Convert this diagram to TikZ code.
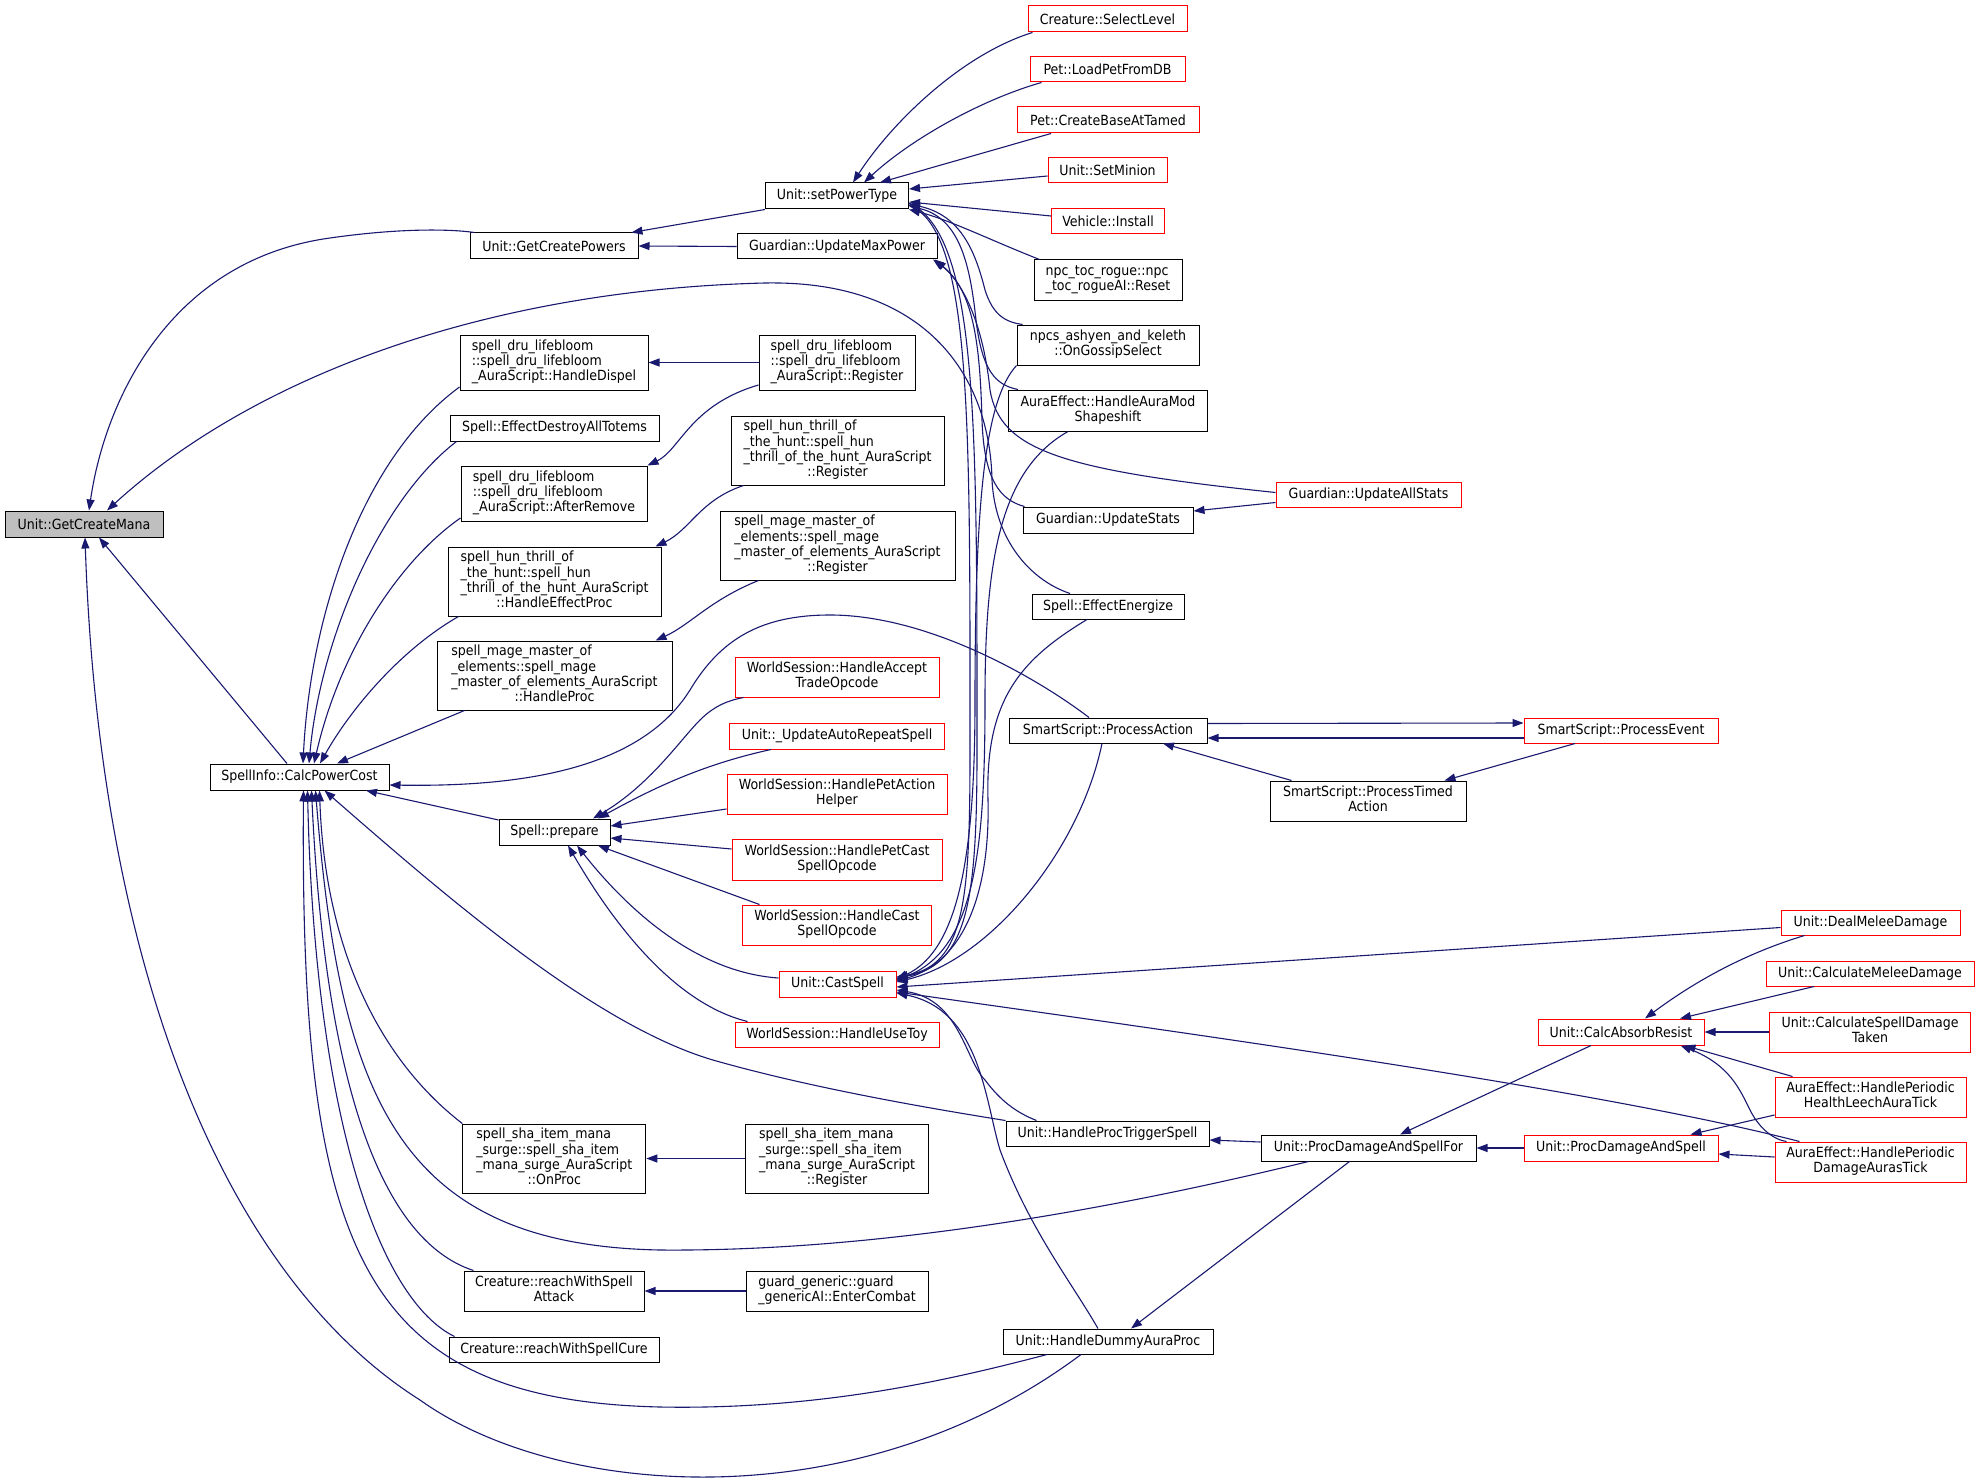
\documentclass[tikz,border=0pt]{standalone}
\usepackage{fontspec}
\setmainfont{DejaVu Sans}[FakeStretch=0.9]
\usetikzlibrary{arrows.meta}
\definecolor{edgec}{HTML}{191970}
\definecolor{rootfill}{HTML}{BFBFBF}
\definecolor{redb}{HTML}{FF0000}
\newcommand\lastln[1]{\multicolumn{1}{@{}c@{}}{#1}}
\newcommand\mlines[1]{\begin{tabular}{@{}l@{}}#1\end{tabular}}
\begin{document}
\begin{tikzpicture}[x=1pt,y=-1pt,
  bx/.style={rectangle, draw=black, line width=1pt, inner sep=0pt, font=\fontsize{14pt}{15pt}\selectfont},
  rb/.style={bx, draw=redb},
  sz/.style 2 args={minimum width=#1pt, minimum height=#2pt},
  ed/.style={draw=edgec, line width=1.1pt, {Triangle[length=11pt,width=8pt]}-}]
\fill[white] (0,0) rectangle (1980,1479);
\useasboundingbox (0,0) rectangle (1980,1479);
% ---------- nodes ----------
\node[bx, sz={158}{26}, fill=rootfill] (gcm) at (84,524) {Unit::GetCreateMana};
\node[bx, sz={168}{26}] (gcp) at (554,246) {Unit::GetCreatePowers};
\node[bx, sz={179}{26}] (cpc) at (299.5,777) {SpellInfo::CalcPowerCost};
\node[bx, sz={143}{26}] (spt) at (837,196) {Unit::setPowerType};
\node[bx, sz={200}{25}] (gump) at (837,246.5) {Guardian::UpdateMaxPower};
\node[rb, sz={159}{26}] (sel) at (1107.5,19) {Creature::SelectLevel};
\node[rb, sz={155}{25}] (lpdb) at (1107.5,69.5) {Pet::LoadPetFromDB};
\node[rb, sz={182}{26}] (cbat) at (1108,120) {Pet::CreateBaseAtTamed};
\node[rb, sz={119}{25}] (smin) at (1107.5,170.5) {Unit::SetMinion};
\node[rb, sz={113}{25}] (vins) at (1108,221.5) {Vehicle::Install};
\node[bx, sz={148}{40}] (toc) at (1108,280) {\mlines{npc\_toc\_rogue::npc\\\lastln{\_toc\_rogueAI::Reset}}};
\node[bx, sz={182}{40}] (ash) at (1108,345) {\mlines{npcs\_ashyen\_and\_keleth\\\lastln{::OnGossipSelect}}};
\node[bx, sz={199}{41}] (shp) at (1108,410.5) {\mlines{AuraEffect::HandleAuraMod\\\lastln{Shapeshift}}};
\node[rb, sz={185}{25}] (uas) at (1368.5,494.5) {Guardian::UpdateAllStats};
\node[bx, sz={170}{26}] (ust) at (1108,520) {Guardian::UpdateStats};
\node[bx, sz={152}{25}] (een) at (1108,606.5) {Spell::EffectEnergize};
\node[bx, sz={188}{55}] (dd) at (554,362.5) {\mlines{spell\_dru\_lifebloom\\::spell\_dru\_lifebloom\\\lastln{\_AuraScript::HandleDispel}}};
\node[bx, sz={156}{55}] (ddr) at (837,362.5) {\mlines{spell\_dru\_lifebloom\\::spell\_dru\_lifebloom\\\lastln{\_AuraScript::Register}}};
\node[bx, sz={209}{26}] (edt) at (554.5,428) {Spell::EffectDestroyAllTotems};
\node[bx, sz={186}{55}] (dar) at (554,493.5) {\mlines{spell\_dru\_lifebloom\\::spell\_dru\_lifebloom\\\lastln{\_AuraScript::AfterRemove}}};
\node[bx, sz={213}{69}] (hep) at (554.5,581.5) {\mlines{spell\_hun\_thrill\_of\\\_the\_hunt::spell\_hun\\\_thrill\_of\_the\_hunt\_AuraScript\\\lastln{::HandleEffectProc}}};
\node[bx, sz={213}{69}] (hr) at (837.5,450.5) {\mlines{spell\_hun\_thrill\_of\\\_the\_hunt::spell\_hun\\\_thrill\_of\_the\_hunt\_AuraScript\\\lastln{::Register}}};
\node[bx, sz={235}{69}] (mhp) at (554.5,675.5) {\mlines{spell\_mage\_master\_of\\\_elements::spell\_mage\\\_master\_of\_elements\_AuraScript\\\lastln{::HandleProc}}};
\node[bx, sz={235}{69}] (mr) at (837.5,545.5) {\mlines{spell\_mage\_master\_of\\\_elements::spell\_mage\\\_master\_of\_elements\_AuraScript\\\lastln{::Register}}};
\node[bx, sz={111}{26}] (prep) at (554.5,832) {Spell::prepare};
\node[rb, sz={204}{40}] (hat) at (837,677) {\mlines{WorldSession::HandleAccept\\\lastln{TradeOpcode}}};
\node[rb, sz={215}{26}] (uars) at (837,736) {Unit::\_UpdateAutoRepeatSpell};
\node[rb, sz={220}{40}] (hpa) at (837,794) {\mlines{WorldSession::HandlePetAction\\\lastln{Helper}}};
\node[rb, sz={210}{41}] (hpc) at (837,859.5) {\mlines{WorldSession::HandlePetCast\\\lastln{SpellOpcode}}};
\node[rb, sz={189}{40}] (hcs) at (837,925) {\mlines{WorldSession::HandleCast\\\lastln{SpellOpcode}}};
\node[rb, sz={117}{26}] (cs) at (837.5,984) {Unit::CastSpell};
\node[rb, sz={204}{25}] (toy) at (837,1034.5) {WorldSession::HandleUseToy};
\node[bx, sz={198}{25}] (pa) at (1108,730.5) {SmartScript::ProcessAction};
\node[rb, sz={194}{25}] (pe) at (1621,730.5) {SmartScript::ProcessEvent};
\node[bx, sz={196}{40}] (pta) at (1368,801) {\mlines{SmartScript::ProcessTimed\\\lastln{Action}}};
\node[rb, sz={179}{25}] (dmd) at (1870.5,922.5) {Unit::DealMeleeDamage};
\node[rb, sz={208}{25}] (cmd) at (1870,973.5) {Unit::CalculateMeleeDamage};
\node[rb, sz={166}{26}] (car) at (1621,1032) {Unit::CalcAbsorbResist};
\node[rb, sz={201}{40}] (csdt) at (1870,1032) {\mlines{Unit::CalculateSpellDamage\\\lastln{Taken}}};
\node[rb, sz={191}{40}] (hl) at (1870.5,1097) {\mlines{AuraEffect::HandlePeriodic\\\lastln{HealthLeechAuraTick}}};
\node[rb, sz={191}{40}] (da) at (1870.5,1162) {\mlines{AuraEffect::HandlePeriodic\\\lastln{DamageAurasTick}}};
\node[rb, sz={194}{26}] (pds) at (1621,1148) {Unit::ProcDamageAndSpell};
\node[bx, sz={215}{26}] (pdsf) at (1368.5,1148) {Unit::ProcDamageAndSpellFor};
\node[bx, sz={203}{25}] (hpts) at (1107.5,1133.5) {Unit::HandleProcTriggerSpell};
\node[bx, sz={183}{69}] (shop) at (554.3,1158.5) {\mlines{spell\_sha\_item\_mana\\\_surge::spell\_sha\_item\\\_mana\_surge\_AuraScript\\\lastln{::OnProc}}};
\node[bx, sz={183}{69}] (shr) at (837,1158.5) {\mlines{spell\_sha\_item\_mana\\\_surge::spell\_sha\_item\\\_mana\_surge\_AuraScript\\\lastln{::Register}}};
\node[bx, sz={180}{40}] (rwsa) at (554,1291) {\mlines{Creature::reachWithSpell\\\lastln{Attack}}};
\node[bx, sz={182}{40}] (gg) at (837,1291) {\mlines{guard\_generic::guard\\\lastln{\_genericAI::EnterCombat}}};
\node[bx, sz={210}{25}] (rwsc) at (554,1349.5) {Creature::reachWithSpellCure};
\node[bx, sz={210}{25}] (hdap) at (1108,1341.5) {Unit::HandleDummyAuraProc};
% ---------- edges ----------
% GetCreateMana
\draw[ed] ([xshift=5pt]gcm.north) .. controls (105,400) and (170,260) .. (330,238) .. controls (400,228) and (450,229) .. ([xshift=5pt]gcp.north west);
\draw[ed] ([xshift=23pt]gcm.north) .. controls (250,380) and (480,290) .. (765,283) .. controls (930,280) and (990,380) .. (992,480) .. controls (995,540) and (1030,580) .. ([xshift=-38pt]een.north);
\draw[ed] ([xshift=15pt]gcm.south) -- ([xshift=-12.5pt]cpc.north);
\draw[ed] ([xshift=1pt]gcm.south) .. controls (100,980) and (230,1280) .. (420,1400) .. controls (560,1500) and (860,1520) .. ([xshift=-27pt]hdap.south);
% GetCreatePowers
\draw[ed] ([xshift=-7pt]gcp.north east) -- (spt.south west);
\draw[ed] (gcp.east) -- (gump.west);
% setPowerType
\draw[ed] ([xshift=16pt]spt.north) .. controls (890,125) and (960,55) .. ([xshift=-75pt]sel.south);
\draw[ed] ([xshift=27pt]spt.north) .. controls (910,140) and (980,100) .. ([xshift=-66pt]lpdb.south);
\draw[ed] ([xshift=43pt]spt.north) -- ([xshift=-57pt]cbat.south);
\draw[ed] ([yshift=7pt]spt.east) -- ([yshift=-5.5pt]smin.west);
\draw[ed] ([yshift=-6pt]spt.east) -- ([yshift=5.5pt]vins.west);
\draw[ed] (spt.south east) .. controls (950,220) and (990,240) .. ([xshift=6pt]toc.north west);
\draw[ed] ([yshift=-8pt]spt.east) .. controls (960,215) and (975,250) .. (985,290) .. controls (993,315) and (1005,322) .. ([xshift=6pt]ash.north west);
\draw[ed] ([yshift=-10pt]spt.east) .. controls (960,218) and (970,265) .. (976,320) .. controls (982,370) and (995,385) .. ([xshift=10pt]shp.north west);
% UpdateMaxPower / UpdateStats
\draw[ed] ([xshift=96pt]gump.south) .. controls (975,290) and (980,350) .. (982,420) .. controls (984,480) and (1000,500) .. ([xshift=2pt]ust.north west);
\draw[ed] ([xshift=98pt]gump.south) .. controls (970,290) and (985,340) .. (990,390) .. controls (1000,450) and (1060,470) .. ([yshift=2pt]uas.west);
\draw[ed] ([yshift=9pt]ust.east) -- ([yshift=-8pt]uas.west);
% script registrations
\draw[ed] (dd.east) -- (ddr.west);
\draw[ed] (dar.north east) .. controls (680,450) and (690,405) .. ([yshift=-22.5pt]ddr.west);
\draw[ed] ([xshift=-6pt]hep.north east) .. controls (690,530) and (700,500) .. ([xshift=13pt]hr.south west);
\draw[ed] ([xshift=-17pt]mhp.north east) .. controls (690,625) and (710,600) .. ([xshift=39pt]mr.south west);
\draw[ed] (shop.east) -- (shr.west);
\draw[ed] (rwsa.east) -- (gg.west);
% CalcPowerCost callers (top)
\draw[ed] ([xshift=3.5pt]cpc.north) .. controls (310,620) and (360,460) .. ([yshift=-24.5pt]dd.west);
\draw[ed] ([xshift=9.5pt]cpc.north) .. controls (320,640) and (380,500) .. ([xshift=7pt]edt.south west);
\draw[ed] ([xshift=14.5pt]cpc.north) .. controls (340,650) and (400,560) .. ([yshift=-24.5pt]dar.west);
\draw[ed] ([xshift=20.5pt]cpc.north) .. controls (350,710) and (400,650) .. ([xshift=11pt]hep.south west);
\draw[ed] ([xshift=37.5pt]cpc.north) -- ([xshift=28pt]mhp.south west);
\draw[ed] ([yshift=-8pt]cpc.east) .. controls (520,787) and (640,770) .. (690,690) .. controls (720,640) and (760,615) .. (830,615) .. controls (930,615) and (1040,680) .. ([xshift=-19pt]pa.north);
\draw[ed] ([xshift=66.5pt]cpc.south) -- ([yshift=12pt]prep.west);
% CalcPowerCost callers (bottom)
\draw[ed] ([xshift=25pt]cpc.south) .. controls (450,900) and (600,1030) .. (720,1062) .. controls (820,1090) and (940,1110) .. (hpts.north west);
\draw[ed] ([xshift=20pt]cpc.south) .. controls (325,950) and (380,1060) .. (shop.north west);
\draw[ed] ([xshift=16pt]cpc.south) .. controls (340,1100) and (400,1245) .. (660,1250) .. controls (900,1252) and (1150,1200) .. ([xshift=-60pt]pdsf.south);
\draw[ed] ([xshift=12pt]cpc.south) .. controls (325,1080) and (380,1240) .. ([xshift=10pt]rwsa.north west);
\draw[ed] ([xshift=8pt]cpc.south) .. controls (315,1120) and (380,1300) .. ([xshift=6pt]rwsc.north west);
\draw[ed] ([xshift=4pt]cpc.south) .. controls (300,1250) and (360,1400) .. (660,1407) .. controls (820,1410) and (950,1380) .. ([xshift=-61pt]hdap.south);
% Spell::prepare callers
\draw[ed] ([xshift=38.5pt]prep.north) .. controls (650,785) and (680,740) .. (700,720) .. controls (715,705) and (730,700) .. ([xshift=9pt]hat.south west);
\draw[ed] ([xshift=43.5pt]prep.north) .. controls (650,790) and (700,765) .. ([xshift=42pt]uars.south west);
\draw[ed] ([yshift=6pt]prep.east) -- ([yshift=-15pt]hpa.west);
\draw[ed] ([yshift=-6pt]prep.east) -- ([yshift=10.5pt]hpc.west);
\draw[ed] ([xshift=43.5pt]prep.south) -- ([xshift=17.5pt]hcs.north west);
\draw[ed] ([xshift=22.5pt]prep.south) .. controls (620,900) and (690,972) .. ([yshift=6pt]cs.west);
\draw[ed] ([xshift=13.5pt]prep.south) .. controls (620,935) and (680,1005) .. ([xshift=13pt]toy.north west);
% CastSpell callers
\draw[ed] ([yshift=7pt]cs.east) .. controls (965,965) and (970,900) .. (970,750) .. controls (970,420) and (972,230) .. ([yshift=-9pt]spt.east);
\draw[ed] ([yshift=6pt]cs.east) .. controls (968,965) and (977,900) .. (977,750) .. controls (977,420) and (978,235) .. ([yshift=-7pt]spt.east);
\draw[ed] ([yshift=5pt]cs.east) .. controls (960,950) and (975,850) .. (975,700) .. controls (975,500) and (985,400) .. (ash.south west);
\draw[ed] ([yshift=4pt]cs.east) .. controls (975,950) and (985,850) .. (985,700) .. controls (985,560) and (1000,470) .. ([xshift=-40pt]shp.south);
\draw[ed] ([yshift=3pt]cs.east) .. controls (970,960) and (990,880) .. (988,800) .. controls (985,700) and (1020,660) .. ([xshift=-21pt]een.south);
\draw[ed] ([yshift=2pt]cs.east) .. controls (990,960) and (1080,850) .. ([xshift=-6pt]pa.south);
\draw[ed] ([yshift=-3pt]cs.east) -- ([yshift=-5pt]dmd.west);
\draw[ed] ([yshift=-8pt]cs.east) .. controls (1200,1035) and (1600,1090) .. ([xshift=25pt]da.north west);
\draw[ed] ([yshift=-6pt]cs.east) .. controls (960,1000) and (965,1060) .. (985,1080) .. controls (1000,1100) and (1015,1112) .. ([xshift=31pt]hpts.north west);
\draw[ed] ([yshift=-9pt]cs.east) .. controls (980,1010) and (985,1100) .. (1000,1150) .. controls (1030,1230) and (1070,1280) .. ([xshift=-10pt]hdap.north);
% SmartScript
\draw[ed] ([yshift=7.5pt]pe.west) -- ([yshift=7pt]pa.east);
\draw[ed] ([yshift=-7.5pt]pa.east) -- ([yshift=-7.5pt]pe.west);
\draw[ed] ([xshift=55pt]pa.south) -- ([xshift=22pt]pta.north west);
\draw[ed] ([xshift=-22pt]pta.north east) -- ([xshift=-46pt]pe.south);
% CalcAbsorbResist and proc chain
\draw[ed] ([xshift=24pt]car.north) .. controls (1690,985) and (1740,955) .. ([xshift=-66pt]dmd.south);
\draw[ed] ([xshift=59pt]car.north) -- ([xshift=-56pt]cmd.south);
\draw[ed] (car.east) -- (csdt.west);
\draw[ed] ([xshift=-20pt]car.south east) -- ([xshift=18pt]hl.north west);
\draw[ed] ([xshift=-24pt]car.south east) .. controls (1730,1065) and (1740,1090) .. (1750,1110) .. controls (1760,1130) and (1775,1140) .. ([xshift=12pt]da.north west);
\draw[ed] ([xshift=31.5pt]pdsf.north) -- ([xshift=-30pt]car.south);
\draw[ed] (pdsf.east) -- (pds.west);
\draw[ed] ([xshift=-28pt]pds.north east) -- ([yshift=-18pt]hl.west);
\draw[ed] ([yshift=-6pt]pds.east) -- ([yshift=5pt]da.west);
\draw[ed] ([yshift=-6.5pt]hpts.east) -- ([yshift=6pt]pdsf.west);
\draw[ed] ([xshift=23pt]hdap.north) -- ([xshift=-19pt]pdsf.south);
\end{tikzpicture}
\end{document}
